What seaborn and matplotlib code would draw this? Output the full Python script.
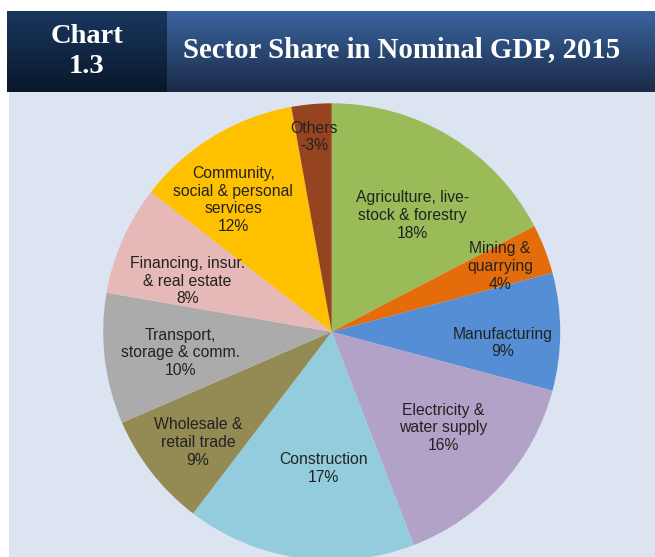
import numpy as np
import matplotlib
matplotlib.use("Agg")
import matplotlib.pyplot as plt
import seaborn as sns

# ---- data ----
sectors = ["Agriculture, live-\nstock & forestry", "Mining &\nquarrying", "Manufacturing",
           "Electricity &\nwater supply", "Construction", "Wholesale &\nretail trade",
           "Transport,\nstorage & comm.", "Financing, insur.\n& real estate",
           "Community,\nsocial & personal\nservices", "Others"]
shares = [18.4, 3.7, 8.8, 15.9, 17.2, 8.6, 9.8, 8.2, 12.4, -3.0]
colors = ["#9BBB59", "#E46C0A", "#558ED5", "#B3A2C7", "#93CDDD",
          "#948A54", "#ABABAB", "#E6B9B8", "#FFC000", "#96441F"]
title = "Sector Share in Nominal GDP, 2015"
chart_no = "Chart\n1.3"

# label placement (layout only): radius fraction and angular nudge in degrees (clockwise)
label_r = [0.62, 0.79, 0.75, 0.645, 0.60, 0.76, 0.67, 0.67, 0.72, 0.856]
label_nudge = [3.5, 0.0, 3.7, -1.3, -4.6, -1.6, -1.1, -4.4, -5.5, 0.0]

sns.set_theme(style="white")
plt.rcParams['font.family'] = ['Liberation Sans', 'DejaVu Sans']

W, H = 655, 557
fig = plt.figure(figsize=(W / 100, H / 100), dpi=100)
fig.patch.set_facecolor("white")

def px_axes(x0, y0, x1, y1):
    # pixel coords from top-left
    return fig.add_axes([x0 / W, 1 - y1 / H, (x1 - x0) / W, (y1 - y0) / H])

# background panel
bg = px_axes(9, 92, W, H)
bg.set_facecolor("#DBE4F0")
bg.set_xticks([]); bg.set_yticks([])
for s in bg.spines.values():
    s.set_visible(False)

# header gradients
def grad_box(x0, y0, x1, y1, top, bottom):
    a = px_axes(x0, y0, x1, y1)
    t = np.array(matplotlib.colors.to_rgb(top))
    b = np.array(matplotlib.colors.to_rgb(bottom))
    f = np.linspace(0, 1, 100)[:, None]
    img = (t[None, :] * (1 - f) + b[None, :] * f)[:, None, :]
    a.imshow(img, aspect="auto", extent=[0, 1, 0, 1])
    a.set_axis_off()
    return a

left = grad_box(7, 11, 167, 92, "#19375F", "#0A1729")
right = grad_box(167, 11, W, 92, "#3A64A0", "#1A2B46")
left.text(0.5, 0.5, chart_no, color="white", ha="center", va="center",
          fontsize=20.5, fontweight="bold", family=["Liberation Serif"],
          linespacing=1.3, transform=left.transAxes)
right.text((183 - 167) / (W - 167), 0.52, title, color="white", ha="left", va="center",
           fontsize=20.7, fontweight="bold", family=["Liberation Serif"],
           transform=right.transAxes)

# pie
cx, cy, R = 331.7, 331.8, 228.5
ax = px_axes(cx - R, cy - R, cx + R, cy + R)
ax.set_axis_off()
wedges, _ = ax.pie(np.abs(shares), colors=colors, startangle=90, counterclock=False,
                   radius=1, wedgeprops=dict(linewidth=0))
ax.set_xlim(-1, 1); ax.set_ylim(-1, 1)
for w in wedges:
    w.set_clip_on(False)

for w, name, v, r, nd in zip(wedges, sectors, shares, label_r, label_nudge):
    mid = np.deg2rad((w.theta1 + w.theta2) / 2 - nd)
    x, y = r * np.cos(mid), r * np.sin(mid)
    ax.text(x, y, f"{name}\n{v:.0f}%", ha="center", va="center",
            fontsize=11.3, color="#222222", linespacing=1.22)

fig.savefig("out.png", dpi=100, facecolor="white")
